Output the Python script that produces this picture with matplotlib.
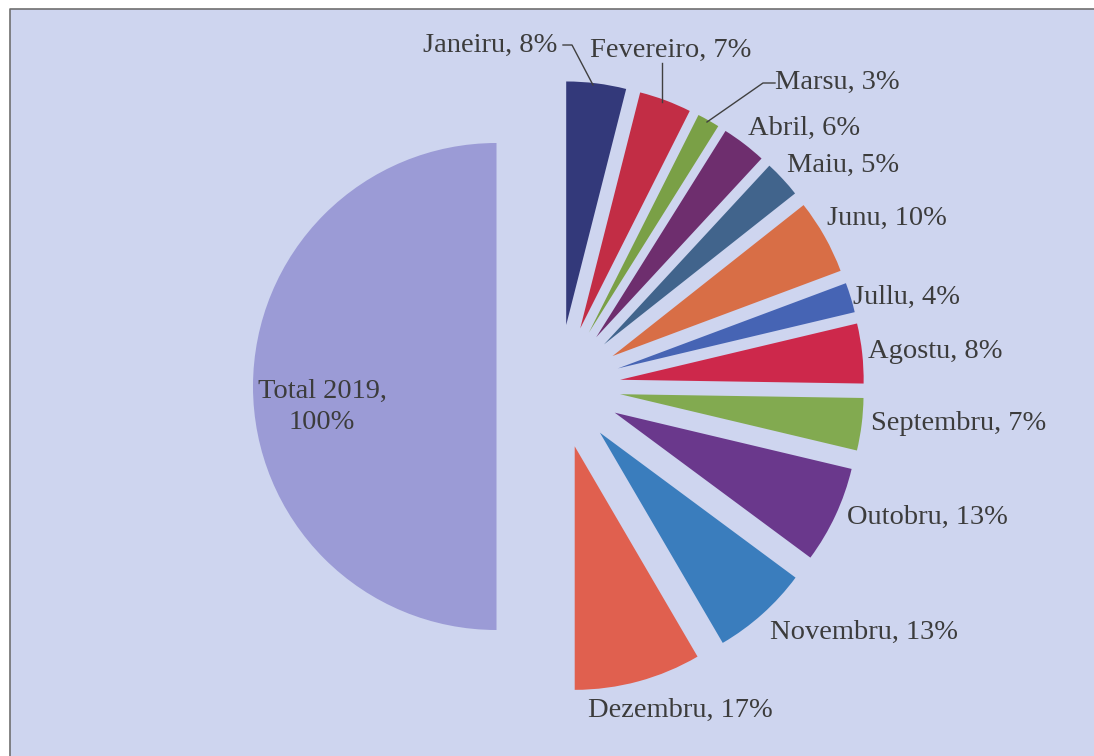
import matplotlib.pyplot as plt
from matplotlib.patches import Rectangle

# Dados do gráfiku
meses = ['Janeiru', 'Fevereiro', 'Marsu', 'Abril', 'Maiu', 'Junu', 'Jullu',
         'Agostu', 'Septembru', 'Outobru', 'Novembru', 'Dezembru']
persentu = [8, 7, 3, 6, 5, 10, 4, 8, 7, 13, 13, 17]
total_nome = 'Total 2019'
total_persentu = 100

# Kór ba fatia ida-idak
kor_meses = ['#33397a', '#c22d45', '#7aa046', '#6e2e6e', '#41648c', '#d86e46',
             '#4664b4', '#cd284b', '#82aa50', '#6a388c', '#3a7dbd', '#e0604f']
kor_total = '#9b9bd6'

# Pozisaun label sira (pixel, husi leten)
pos_label = [(557, 45, 'right'), (590, 50, 'left'), (775, 82, 'left'),
             (748, 128, 'left'), (787, 165, 'left'), (827, 218, 'left'),
             (853, 297, 'left'), (868, 352, 'left'), (871, 423, 'left'),
             (847, 517, 'left'), (770, 632, 'left'), (588, 710, 'left')]

W, H = 1094, 756
fig = plt.figure(figsize=(W / 100, H / 100), dpi=100)
fig.patch.set_facecolor('white')
ax = fig.add_axes([0, 0, 1, 1])

# persentu sira arredondadu (soma 101), entaun normaliza ba total
soma = sum(persentu)
valores = [p * total_persentu / soma for p in persentu] + [total_persentu]
kores = kor_meses + [kor_total]

ax.pie(valores, colors=kores, startangle=270, counterclock=True,
       center=(558.5, 386.5), radius=243.5, explode=[62] * len(valores),
       wedgeprops=dict(linewidth=0))

ax.set_xlim(0, W)
ax.set_ylim(H, 0)
ax.set_aspect('equal')
ax.axis('off')

# Fundu azul ho liña moldura iha leten no karuk deit
fundu = Rectangle((10, 9), W + 100, H + 100, facecolor='#ced5ef',
                  edgecolor='none', zorder=0, clip_on=False)
ax.add_patch(fundu)
ax.plot([10, 10, W + 10], [H + 10, 9, 9], color='#707070', lw=1.2,
        zorder=0.5, clip_on=False)

fonte = dict(family='Liberation Serif', fontsize=20.5, color='#3c3c3c')

for mes, p, (x, y, ha) in zip(meses, persentu, pos_label):
    ax.text(x, y, f'{mes}, {p}%', ha=ha, va='center', **fonte)

ax.text(322, 407, f'{total_nome},\n{total_persentu}%', ha='center',
        va='center', linespacing=1.3, **fonte)

# Liña guia
kor_liña = '#404040'
ax.plot([563, 572, 593], [45, 45, 85], color=kor_liña, lw=1)
ax.plot([662, 662], [63, 102], color=kor_liña, lw=1)
ax.plot([775, 763, 707], [83, 83, 122], color=kor_liña, lw=1)

fig.savefig('out.png', dpi=100)
